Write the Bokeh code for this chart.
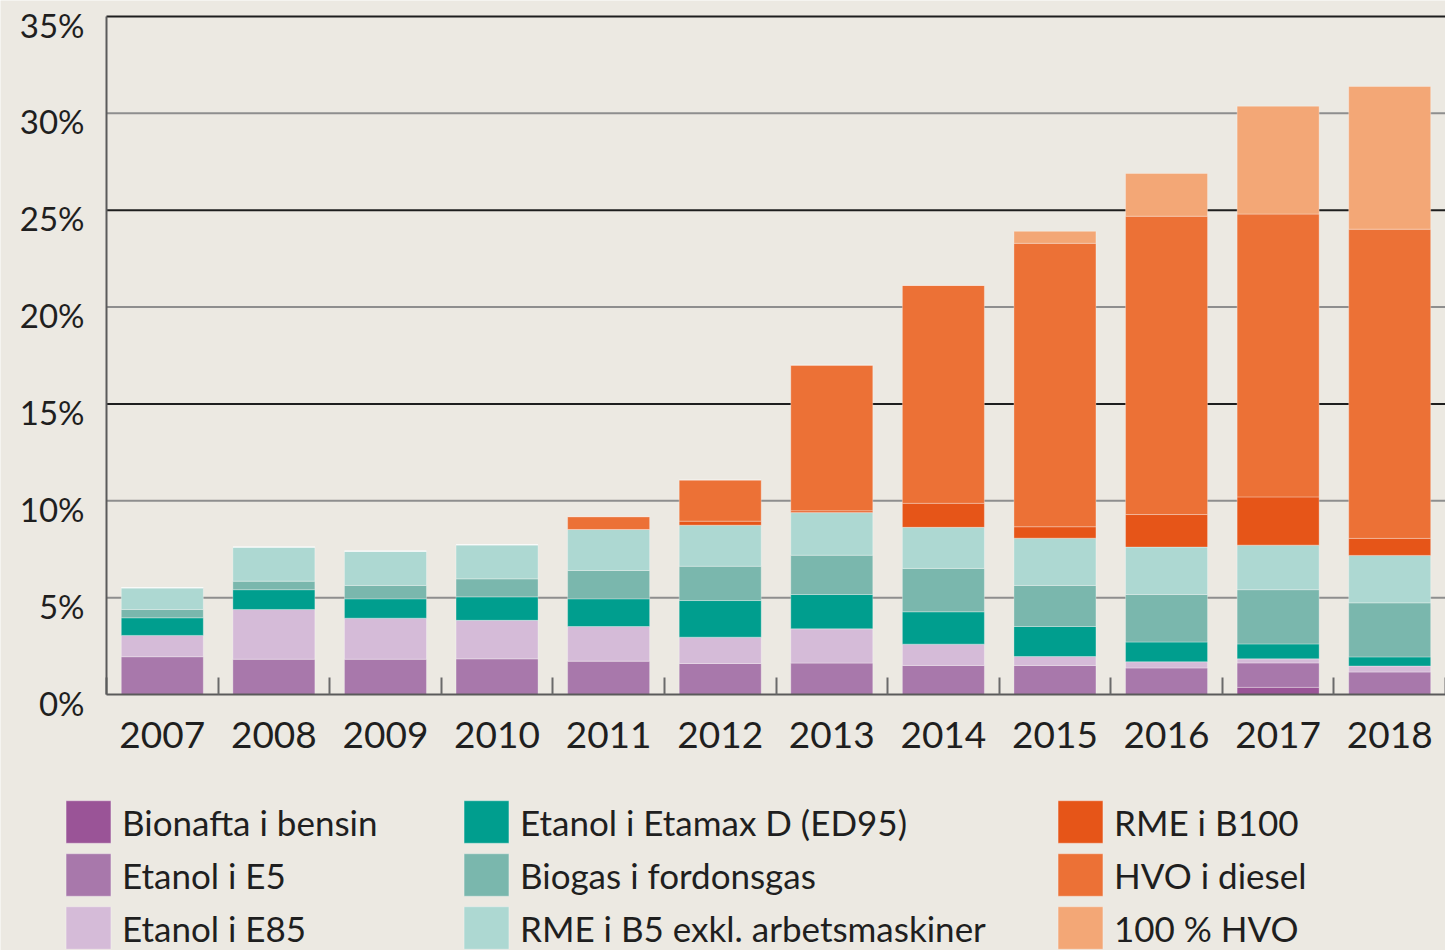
from bokeh.plotting import figure
from bokeh.models import (Range1d, LinearAxis, FixedTicker, CustomJSTickFormatter,
                          Legend, LegendItem, ColumnDataSource)
from bokeh.embed import file_html
from bokeh.resources import INLINE

# ---------------- data (share of biofuels, %) ----------------
years = ["2007", "2008", "2009", "2010", "2011", "2012",
         "2013", "2014", "2015", "2016", "2017", "2018"]
bionafta = [0, 0, 0, 0, 0, 0, 0, 0, 0, 0, 0.37, 0]
etanol_e5 = [1.95, 1.82, 1.82, 1.84, 1.72, 1.60, 1.62, 1.50, 1.50, 1.37, 1.26, 1.16]
etanol_e85 = [1.10, 2.57, 2.12, 1.99, 1.79, 1.36, 1.77, 1.10, 0.46, 0.32, 0.21, 0.31]
etanol_ed95 = [0.91, 1.02, 1.00, 1.21, 1.43, 1.89, 1.77, 1.67, 1.55, 1.02, 0.77, 0.47]
biogas = [0.43, 0.44, 0.69, 0.93, 1.46, 1.77, 2.03, 2.24, 2.12, 2.45, 2.80, 2.79]
rme_b5 = [1.12, 1.76, 1.77, 1.76, 2.12, 2.12, 2.20, 2.12, 2.44, 2.45, 2.30, 2.45]
rme_b100 = [0, 0, 0, 0, 0, 0.21, 0.09, 1.24, 0.59, 1.68, 2.49, 0.88]
hvo_diesel = [0, 0, 0, 0, 0.66, 2.12, 7.52, 11.25, 14.63, 15.40, 14.60, 15.96]
hvo_100 = [0, 0, 0, 0, 0, 0, 0, 0, 0.62, 2.21, 5.57, 7.37]

series_names = ["Bionafta i bensin", "Etanol i E5", "Etanol i E85",
                "Etanol i Etamax D (ED95)", "Biogas i fordonsgas",
                "RME i B5 exkl. arbetsmaskiner", "RME i B100", "HVO i diesel",
                "100 % HVO"]
y_ticks = [0, 5, 10, 15, 20, 25, 30, 35]
light_grid = [5, 10, 20, 30]
dark_grid = [15, 25, 35]

# ---------------- styling / layout constants ----------------
colors = ["#9A5497", "#A878AB", "#D5BBD8", "#009E8E", "#7AB7AD",
          "#ADD8D2", "#E65518", "#EC7136", "#F3A776"]
BG = "#ECE9E2"
FONT = "Lato"
TXT = "#1f1f1f"
W, H = 1445, 950
AX_LEFT, AX_RIGHT = 106, 1445     # pixel columns of x = 0 and x = 12
AX_BOTTOM, AX_TOP = 694, 16       # pixel rows of y = 0 and y = 35
YMAX = 35
n = len(years)

# data ranges chosen so that the frame covers the whole canvas (legend sits inside it)
ux = n / (AX_RIGHT - AX_LEFT)
uy = YMAX / (AX_BOTTOM - AX_TOP)
x_range = Range1d(-AX_LEFT * ux, n + (W - AX_RIGHT) * ux)
y_range = Range1d(-(H - AX_BOTTOM) * uy, YMAX + AX_TOP * uy)

keys = ["bionafta", "e5", "e85", "ed95", "biogas", "b5", "b100", "hvo", "hvo100"]
data = dict(x=[i + 0.5 for i in range(n)],
            bionafta=bionafta, e5=etanol_e5, e85=etanol_e85, ed95=etanol_ed95,
            biogas=biogas, b5=rme_b5, b100=rme_b100, hvo=hvo_diesel, hvo100=hvo_100)
source = ColumnDataSource(data)

p = figure(width=W, height=H, x_range=x_range, y_range=y_range,
           x_axis_type=None, y_axis_type=None, output_backend="svg",
           toolbar_location=None, min_border=0,
           background_fill_color=BG, border_fill_color=BG, outline_line_color=None)
p.xgrid.visible = False
p.ygrid.visible = False

# horizontal grid lines, only across the plotting area
p.segment(x0=0, x1=n, y0=light_grid, y1=light_grid, line_color="#8e8e8e", line_width=2)
p.segment(x0=0, x1=n, y0=dark_grid, y1=dark_grid, line_color="#1e1e1e", line_width=2)

bars = p.vbar_stack(keys, x="x", width=0.735, source=source, fill_color=colors,
                    line_color="white", line_alpha=0.3, line_width=1)

# x axis at y = 0 (labels at bar centers, boundary ticks pointing up)
xaxis = LinearAxis(
    fixed_location=0, bounds=(0, n),
    ticker=FixedTicker(ticks=data["x"], minor_ticks=list(range(n + 1))),
    formatter=CustomJSTickFormatter(args=dict(labels=years),
                                    code="return labels[Math.floor(tick)];"),
    major_tick_line_color=None, major_tick_in=0, major_tick_out=0,
    minor_tick_in=17, minor_tick_out=0, minor_tick_line_color="#6a6a6a",
    minor_tick_line_width=2, axis_line_color="#5a5a5a", axis_line_width=2,
    major_label_text_font=FONT, major_label_text_font_size="37px",
    major_label_text_color=TXT, major_label_standoff=27)
p.add_layout(xaxis, "below")

# y axis line at x = 0
yaxis = LinearAxis(fixed_location=0, bounds=(0, YMAX), ticker=FixedTicker(ticks=y_ticks),
                   formatter=CustomJSTickFormatter(code="return '';"),
                   major_tick_line_color=None, minor_tick_line_color=None,
                   major_tick_in=0, major_tick_out=0, minor_tick_out=0,
                   major_label_standoff=0, axis_line_color="#5a5a5a", axis_line_width=2)
p.add_layout(yaxis, "left")

# y tick labels, set slightly below the grid lines as in the original
shift = 0.42
p.extra_y_ranges = {"lab": Range1d(y_range.start + shift, y_range.end + shift)}
ylab = LinearAxis(y_range_name="lab", fixed_location=0, bounds=(-5, 40),
                  ticker=FixedTicker(ticks=y_ticks),
                  formatter=CustomJSTickFormatter(code="return tick + '%';"),
                  axis_line_color=None, major_tick_line_color=None,
                  minor_tick_line_color=None, major_tick_out=0, minor_tick_out=0,
                  major_label_text_font=FONT, major_label_text_font_size="33px",
                  major_label_text_color=TXT, major_label_standoff=22)
p.add_layout(ylab, "left")

# ---------------- legend: three columns below the axis ----------------
col_x = [60, 458, 1052]
for c in range(3):
    items = [LegendItem(label=series_names[k], renderers=[bars[k]])
             for k in range(c * 3, c * 3 + 3)]
    leg = Legend(items=items, location=(col_x[c], -4), orientation="vertical",
                 glyph_width=56, glyph_height=53, label_height=53, label_standoff=6,
                 spacing=0, padding=0, margin=0, border_line_color=None,
                 background_fill_alpha=0, label_text_font=FONT,
                 label_text_font_size="35px", label_text_color=TXT)
    p.add_layout(leg)

open("out.html", "w").write(file_html(p, INLINE))
